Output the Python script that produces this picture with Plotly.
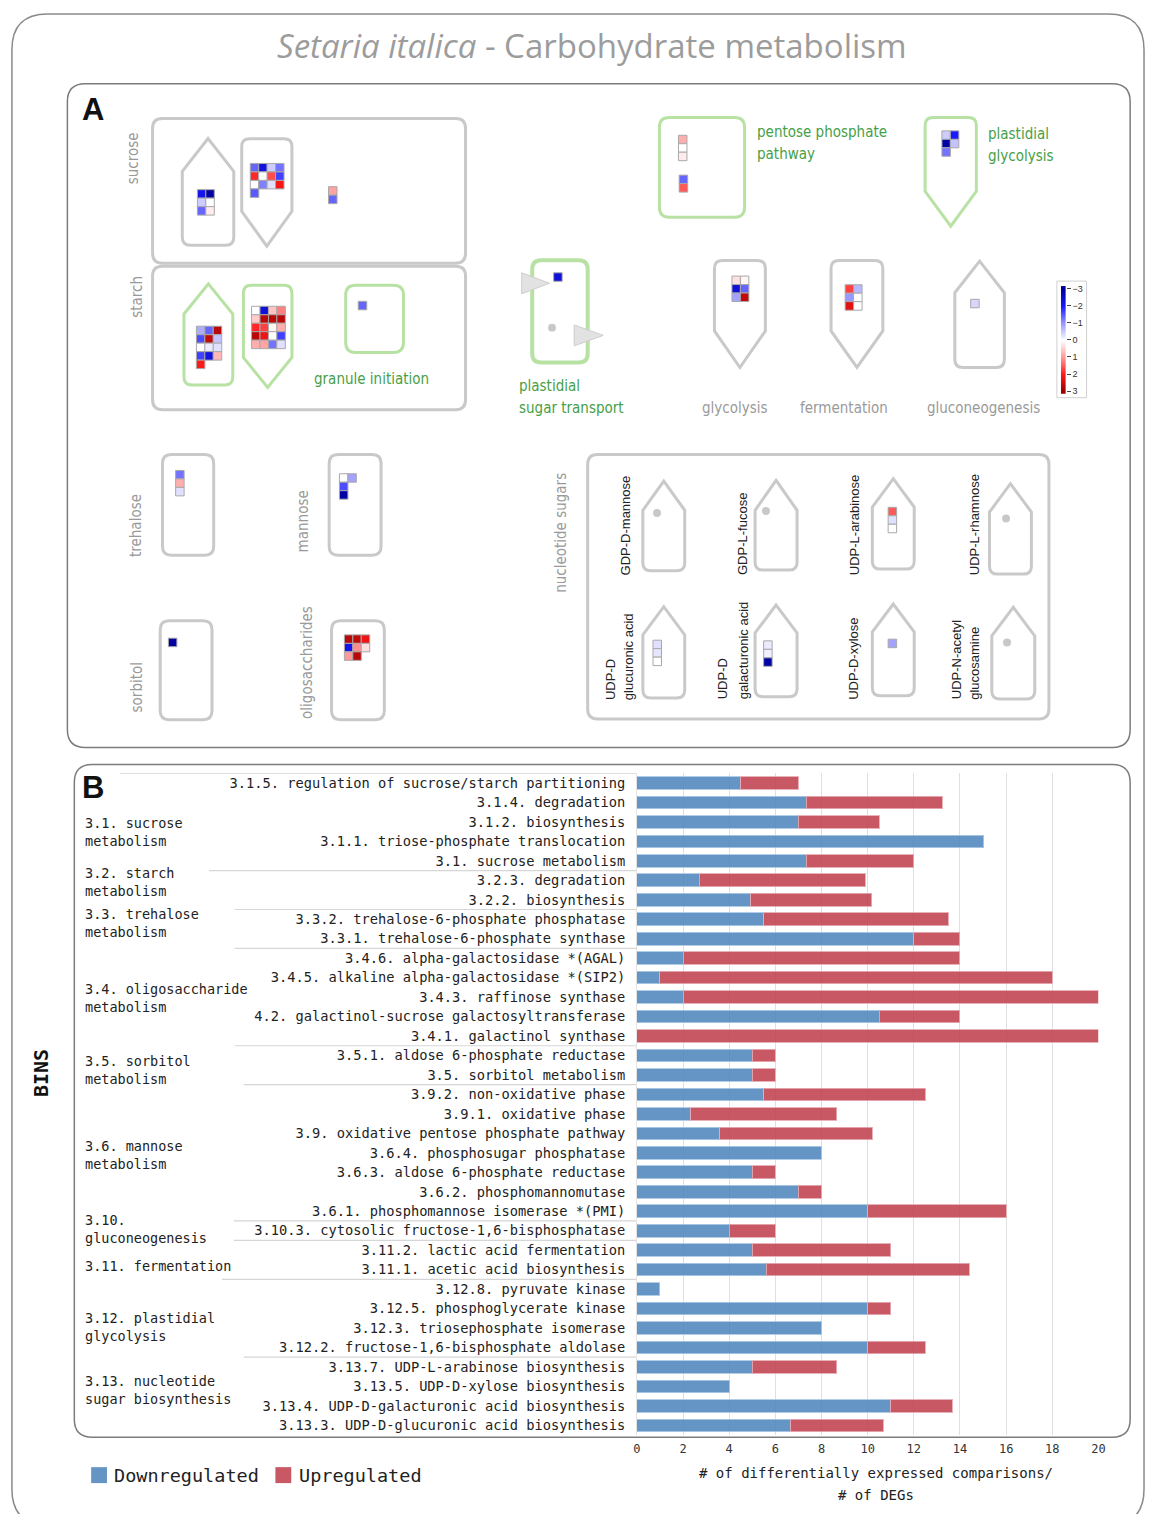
import plotly.graph_objects as go

W, H = 1153, 1517

# ---------------- Panel B: DEG counts per MapMan bin ----------------
bins = [
    "3.1.5. regulation of sucrose/starch partitioning",
    "3.1.4. degradation",
    "3.1.2. biosynthesis",
    "3.1.1. triose-phosphate translocation",
    "3.1. sucrose metabolism",
    "3.2.3. degradation",
    "3.2.2. biosynthesis",
    "3.3.2. trehalose-6-phosphate phosphatase",
    "3.3.1. trehalose-6-phosphate synthase",
    "3.4.6. alpha-galactosidase *(AGAL)",
    "3.4.5. alkaline alpha-galactosidase *(SIP2)",
    "3.4.3. raffinose synthase",
    "4.2. galactinol-sucrose galactosyltransferase",
    "3.4.1. galactinol synthase",
    "3.5.1. aldose 6-phosphate reductase",
    "3.5. sorbitol metabolism",
    "3.9.2. non-oxidative phase",
    "3.9.1. oxidative phase",
    "3.9. oxidative pentose phosphate pathway",
    "3.6.4. phosphosugar phosphatase",
    "3.6.3. aldose 6-phosphate reductase",
    "3.6.2. phosphomannomutase",
    "3.6.1. phosphomannose isomerase *(PMI)",
    "3.10.3. cytosolic fructose-1,6-bisphosphatase",
    "3.11.2. lactic acid fermentation",
    "3.11.1. acetic acid biosynthesis",
    "3.12.8. pyruvate kinase",
    "3.12.5. phosphoglycerate kinase",
    "3.12.3. triosephosphate isomerase",
    "3.12.2. fructose-1,6-bisphosphate aldolase",
    "3.13.7. UDP-L-arabinose biosynthesis",
    "3.13.5. UDP-D-xylose biosynthesis",
    "3.13.4. UDP-D-galacturonic acid biosynthesis",
    "3.13.3. UDP-D-glucuronic acid biosynthesis",
]
downregulated = [4.5, 7.33, 7.0, 15.0, 7.33, 2.7, 4.93, 5.5, 12.0, 2.0, 1.0, 2.0, 10.5, 0.0,
                 5.0, 5.0, 5.5, 2.33, 3.6, 8.0, 5.0, 7.0, 10.0, 4.0, 5.0, 5.6, 1.0, 10.0,
                 8.0, 10.0, 5.0, 4.0, 11.0, 6.67]
upregulated = [2.5, 5.9, 3.5, 0.0, 4.67, 7.2, 5.24, 8.0, 2.0, 12.0, 17.0, 18.0, 3.5, 20.0,
               1.0, 1.0, 7.0, 6.33, 6.6, 0.0, 1.0, 1.0, 6.0, 2.0, 6.0, 8.8, 0.0, 1.0,
               0.0, 2.5, 3.67, 0.0, 2.67, 4.0]
group_sizes = [5, 2, 2, 5, 2, 7, 1, 2, 4, 4]
group_labels = [
    ["3.1. sucrose", "metabolism"],
    ["3.2. starch", "metabolism"],
    ["3.3. trehalose", "metabolism"],
    ["3.4. oligosaccharide", "metabolism"],
    ["3.5. sorbitol", "metabolism"],
    ["3.6. mannose", "metabolism"],
    ["3.10.", "gluconeogenesis"],
    ["3.11. fermentation"],
    ["3.12. plastidial", "glycolysis"],
    ["3.13. nucleotide", "sugar biosynthesis"],
]
x_ticks = [0, 2, 4, 6, 8, 10, 12, 14, 16, 18, 20]

# ---------------- Panel A: log2 fold-change blocks ----------------
scale_ticks = [-3, -2, -1, 0, 1, 2, 3]
sucrose_cytosolic = [[-2.2, -2.9], [-0.5, 0.0], [-1.4, 0.2]]
sucrose_degradation = [[-1.4, -2.3, -0.5, -1.3], [1.9, 0.0, 1.6, -1.7],
                       [0.0, -1.2, -0.3, 2.1], [-1.5, None, None, None]]
sucrose_other = [[0.9], [-1.4]]
starch_synthesis = [[-0.8, -1.4, 2.7], [-1.6, 2.6, -0.6], [0.0, -0.2, -0.3],
                    [-1.7, -2.3, 0.7], [2.0, None, None]]
starch_degradation = [[0.0, -2.4, 0.6, 1.2], [0.5, 2.7, 2.7, 2.7], [1.9, 1.7, 0.1, 0.8],
                      [2.7, 2.2, 0.0, -1.7], [0.8, 0.9, -1.3, -0.3]]
granule_initiation = [[-1.4]]
ppp_oxidative = [[0.8], [0.0], [0.2]]
ppp_nonoxidative = [[-1.4], [1.5]]
sugar_transport = [[-2.4]]
glycolysis = [[0.3, 0.1], [-2.4, -1.4], [-0.9, 2.6]]
plastid_glycolysis = [[-0.5, -2.0], [-2.9, -0.6], [-1.3, None]]
fermentation = [[1.7, -0.7], [-1.0, 0.0], [2.3, 0.0]]
gluconeogenesis = [[-0.4]]
trehalose = [[-1.3], [0.8], [-0.3]]
mannose = [[0.0, -0.9], [-1.6, None], [-2.9, None]]
sorbitol = [[-2.9]]
oligosaccharides = [[2.7, 2.6, 2.2], [-2.2, 1.1, 0.3], [1.0, 2.7, None]]
udp_arabinose = [[1.5], [-0.3], [0.0]]
udp_glucuronic = [[-0.3], [-0.25], [0.0]]
udp_galacturonic = [[-0.2], [-0.15], [-2.9]]
udp_xylose = [[-0.9]]

# block placement (top-left corner, px)
blocks = [
    (sucrose_cytosolic, 194.3, 187.3), (sucrose_degradation, 247.7, 161.0),
    (sucrose_other, 326.7, 184.3), (starch_synthesis, 193.3, 324.3),
    (starch_degradation, 249.0, 304.3), (granule_initiation, 356.7, 299.3),
    (ppp_oxidative, 680.0, 132.7), (ppp_nonoxidative, 680.7, 172.7),
    (sugar_transport, 554.0, 270.7), (glycolysis, 734.0, 274.0),
    (plastid_glycolysis, 946.0, 128.3), (fermentation, 848.3, 282.7),
    (gluconeogenesis, 975.0, 297.3), (trehalose, 172.3, 469.0),
    (mannose, 337.7, 472.3), (sorbitol, 165.0, 637.3),
    (oligosaccharides, 342.7, 634.0), (udp_arabinose, 891.7, 506.0),
    (udp_glucuronic, 654.3, 639.3), (udp_galacturonic, 766.0, 640.0),
    (udp_xylose, 891.7, 638.3),
]
CELL = 8.5
fc_scale = [[0.0, "#00009a"], [1 / 6, "#1a1aff"], [2 / 6, "#9999ff"], [0.5, "#ffffff"],
            [4 / 6, "#ff9999"], [5 / 6, "#ff1a1a"], [1.0, "#9a0000"]]

GREY = "#c9c9c9"
GREEN = "#b8e2a4"
TXT_GREY = "#9a9a9a"
TXT_GREEN = "#46a046"
NARROW = "DejaVu Sans Condensed, Liberation Sans Narrow, Arial Narrow, Liberation Sans, Arial"
MONO = "DejaVu Sans Mono, monospace"
SANS = "Liberation Sans, Arial, sans-serif"

fig = go.Figure()

# stacked bars
bar_blue = "rgba(74,131,188,0.86)"
bar_red = "rgba(190,61,75,0.86)"
fig.add_trace(go.Bar(y=bins, x=downregulated, orientation="h", name="Downregulated",
                     marker=dict(color=bar_blue, line=dict(color="rgba(170,200,230,0.9)", width=1)),
                     xaxis="x", yaxis="y", showlegend=False))
fig.add_trace(go.Bar(y=bins, x=upregulated, orientation="h", name="Upregulated",
                     marker=dict(color=bar_red, line=dict(color="rgba(230,170,178,0.9)", width=1)),
                     xaxis="x", yaxis="y", showlegend=False))

# heat-map cells of panel A
cx, cy, cv = [], [], []
for grid, x0, y0 in blocks:
    for r, row in enumerate(grid):
        for c, v in enumerate(row):
            if v is None:
                continue
            cx.append(x0 + 1 + CELL / 2 + c * CELL)
            cy.append(y0 + 1 + CELL / 2 + r * CELL)
            cv.append(v)
fig.add_trace(go.Scatter(x=cx, y=cy, mode="markers", xaxis="x2", yaxis="y2",
                         marker=dict(symbol="square", size=CELL, color=cv, colorscale=fc_scale,
                                     cmin=-3, cmax=3, line=dict(color="#a9a9a9", width=1)),
                         showlegend=False, hoverinfo="skip"))

# colour key
fig.add_trace(go.Heatmap(z=[[v, v] for v in scale_ticks], y=scale_ticks, x=[0, 1],
                         colorscale=fc_scale, zmin=-3, zmax=3, zsmooth="best",
                         showscale=False, xaxis="x3", yaxis="y3", hoverinfo="skip"))

shapes = []


def rrect(x0, y0, x1, y1, r, color, width, fill="rgba(0,0,0,0)"):
    p = (f"M{x0+r},{y0} L{x1-r},{y0} Q{x1},{y0} {x1},{y0+r} L{x1},{y1-r} Q{x1},{y1} {x1-r},{y1} "
         f"L{x0+r},{y1} Q{x0},{y1} {x0},{y1-r} L{x0},{y0+r} Q{x0},{y0} {x0+r},{y0} Z")
    shapes.append(dict(type="path", path=p, xref="x2", yref="y2", layer="below",
                       line=dict(color=color, width=width), fillcolor=fill))


def house(l, r, apex, shoulder, bottom, color, rad=8, width=3):
    m = (l + r) / 2
    p = (f"M{l},{shoulder} L{m},{apex} L{r},{shoulder} L{r},{bottom-rad} Q{r},{bottom} {r-rad},{bottom} "
         f"L{l+rad},{bottom} Q{l},{bottom} {l},{bottom-rad} Z")
    shapes.append(dict(type="path", path=p, xref="x2", yref="y2", layer="below",
                       line=dict(color=color, width=width)))


def shield(l, r, top, shoulder, apex, color, rad=8, width=3):
    m = (l + r) / 2
    p = (f"M{l},{top+rad} Q{l},{top} {l+rad},{top} L{r-rad},{top} Q{r},{top} {r},{top+rad} "
         f"L{r},{shoulder} L{m},{apex} L{l},{shoulder} Z")
    shapes.append(dict(type="path", path=p, xref="x2", yref="y2", layer="below",
                       line=dict(color=color, width=width)))


def tri(x0, ya, yb, tip_x):
    p = f"M{x0},{ya} L{x0},{yb} L{tip_x},{(ya+yb)/2} Z"
    shapes.append(dict(type="path", path=p, xref="x2", yref="y2", layer="below",
                       line=dict(color="#cdcdcd", width=1), fillcolor="#e2e2e2"))


def dot(x, y, r=4):
    shapes.append(dict(type="circle", x0=x - r, x1=x + r, y0=y - r, y1=y + r, xref="x2", yref="y2",
                       layer="below", line=dict(width=0), fillcolor="#c8c8c8"))


# frames
rrect(8, 12, 1151, 1528, 36, "#8a8a8a", 1.5)
rrect(64, 82, 1137, 748, 18, "#7c7c7c", 1.5)
rrect(71, 765, 1137, 1440, 18, "#7c7c7c", 1.5)

# panel A compartments
rrect(150, 117, 466, 262, 10, GREY, 3)
rrect(150, 265, 466, 409, 10, GREY, 3)
house(180, 232, 137, 170, 244, GREY)
shield(240, 290.7, 137.3, 210, 245, GREY)
house(181.7, 231, 282.7, 313, 384.3, GREEN)
shield(241.7, 290.7, 284.3, 356.7, 386.7, GREEN)
rrect(345, 284.3, 403.3, 351.7, 10, GREEN, 3)
rrect(661.7, 116, 747.7, 216, 10, GREEN, 3)
shield(930, 981.7, 116, 190, 225, GREEN)
rrect(533.3, 259, 589.3, 361.7, 9, GREEN, 4)
tri(522.7, 271.7, 292.7, 550.7)
tri(575.7, 324, 345, 605)
dot(553.3, 326.7)
shield(717.3, 768.7, 259.3, 330, 366.7, GREY)
shield(835, 887.3, 259.3, 330, 366.7, GREY)
house(960, 1010, 260, 291.7, 366.7, GREY)
rrect(160, 454, 211.7, 555, 9, GREY, 3)
rrect(328.3, 454, 380.7, 555, 9, GREY, 3)
rrect(157.7, 620.7, 210, 720, 9, GREY, 3)
rrect(330.7, 620.7, 384, 720, 9, GREY, 3)
rrect(589.3, 454, 1055, 719.3, 10, GREY, 3)
house(645, 687.3, 480.7, 510, 570.7, GREY)
house(758.3, 800.7, 480, 510, 570, GREY)
house(876.7, 919, 478.3, 506.7, 569, GREY)
house(995, 1037.3, 483.3, 511.7, 574, GREY)
house(645, 687.3, 606.7, 635, 698.3, GREY)
house(758.3, 800.7, 605, 633, 697, GREY)
house(876.7, 919, 604, 632, 696, GREY)
house(997.3, 1040.7, 607.3, 636, 699.3, GREY)
dot(659.3, 512.7)
dot(769.3, 510.7)
dot(1011.7, 518.3)
dot(1012.7, 642.7)
rrect(1063, 280, 1093, 397, 0.1, "#d0d0d0", 1)

# separators between bin groups in panel B
sep_x = [117, 207, 233, 233, 233, 242, 232, 232, 220, 242]
bounds = [-0.5]
acc = 0
for g in group_sizes[:-1]:
    acc += g
    bounds.append(acc - 0.5)
for xs, b in zip(sep_x, bounds):
    shapes.append(dict(type="line", xref="paper", yref="y", x0=xs / W, x1=639 / W, y0=b, y1=b,
                       line=dict(color="#d6d6d6", width=1.2), layer="below"))

# legend swatches
shapes.append(dict(type="rect", xref="x2", yref="y2", x0=88, x1=104, y0=1470, y1=1486,
                   fillcolor=bar_blue, line=dict(width=0)))
shapes.append(dict(type="rect", xref="x2", yref="y2", x0=274, x1=290, y0=1470, y1=1486,
                   fillcolor=bar_red, line=dict(width=0)))

ann = []


def text(t, x, y, size, color, family, xanchor="center", yanchor="middle", angle=0, bold=False,
         align="center"):
    if bold:
        t = f"<b>{t}</b>"
    ann.append(dict(text=t, x=x, y=y, xref="x2", yref="y2", showarrow=False, xanchor=xanchor,
                    yanchor=yanchor, textangle=angle, align=align,
                    font=dict(size=size, color=color, family=family)))


text("<i>Setaria italica</i> - Carbohydrate metabolism", 594, 44, 33, "#9c9c9c",
     "Open Sans, Liberation Sans, sans-serif")
text("A", 77, 108, 31, "#111", SANS, xanchor="left", bold=True)
text("B", 77, 788, 31, "#111", SANS, xanchor="left", bold=True)

# panel A labels
text("sucrose", 131, 157, 15, TXT_GREY, NARROW, angle=-90)
text("starch", 134, 296, 15, TXT_GREY, NARROW, angle=-90)
text("granule initiation", 371, 378, 15, TXT_GREEN, NARROW)
text("pentose phosphate", 758, 130, 15, TXT_GREEN, NARROW, xanchor="left")
text("pathway", 758, 152, 15, TXT_GREEN, NARROW, xanchor="left")
text("plastidial", 991, 132, 15, TXT_GREEN, NARROW, xanchor="left")
text("glycolysis", 991, 155, 15, TXT_GREEN, NARROW, xanchor="left")
text("plastidial", 518, 385, 15, TXT_GREEN, NARROW, xanchor="left")
text("sugar transport", 518, 407, 15, TXT_GREEN, NARROW, xanchor="left")
text("glycolysis", 738, 407, 15, TXT_GREY, NARROW)
text("fermentation", 848, 407, 15, TXT_GREY, NARROW)
text("gluconeogenesis", 989, 407, 15, TXT_GREY, NARROW)
text("trehalose", 134, 525, 15, TXT_GREY, NARROW, angle=-90)
text("mannose", 302, 521, 15, TXT_GREY, NARROW, angle=-90)
text("sorbitol", 134, 688, 15, TXT_GREY, NARROW, angle=-90)
text("oligosaccharides", 306, 663, 15, TXT_GREY, NARROW, angle=-90)
text("nucleotide sugars", 563, 533, 15, TXT_GREY, NARROW, angle=-90)
NS = "#222"
text("GDP-D-mannose", 627.3, 577, 13, NS, SANS, yanchor="bottom", angle=-90)
text("GDP-L-fucose", 745, 577, 13, NS, SANS, yanchor="bottom", angle=-90)
text("UDP-L-arabinose", 858.3, 577, 13, NS, SANS, yanchor="bottom", angle=-90)
text("UDP-L-rhamnose", 980, 577, 13, NS, SANS, yanchor="bottom", angle=-90)
text("UDP-D", 611.7, 702, 13, NS, SANS, yanchor="bottom", angle=-90)
text("glucuronic acid", 630, 702, 13, NS, SANS, yanchor="bottom", angle=-90)
text("UDP-D", 725, 702, 13, NS, SANS, yanchor="bottom", angle=-90)
text("galacturonic acid", 746.7, 702, 13, NS, SANS, yanchor="bottom", angle=-90)
text("UDP-D-xylose", 858.3, 702, 13, NS, SANS, yanchor="bottom", angle=-90)
text("UDP-N-acetyl", 961.7, 702, 13, NS, SANS, yanchor="bottom", angle=-90)
text("glucosamine", 980, 702, 13, NS, SANS, yanchor="bottom", angle=-90)

# panel B labels (group names, each as one block of text)
group_label_y = [833, 883, 924, 999, 1072, 1157, 1231, 1268, 1329, 1393]
for lines, y in zip(group_labels, group_label_y):
    text("<br>".join(lines), 80, y, 13.5, "#222", MONO, xanchor="left", align="left")
text("BINS", 38, 1075, 20, "#111", MONO, angle=-90, bold=True)
text("Downregulated", 109, 1478, 18.5, "#222", MONO, xanchor="left")
text("Upregulated", 296, 1478, 18.5, "#222", MONO, xanchor="left")
text("# of differentially expressed comparisons/", 880, 1476, 14, "#222", MONO)
text("# of DEGs", 880, 1498, 14, "#222", MONO)

y_top, y_bot = 773.2, 1437.8
fig.update_layout(
    width=W, height=H, margin=dict(l=0, r=0, t=0, b=0),
    paper_bgcolor="white", plot_bgcolor="rgba(0,0,0,0)",
    barmode="stack", bargap=0.35, showlegend=False,
    shapes=shapes, annotations=ann,
    xaxis=dict(domain=[639 / W, 1105 / W], range=[0, 20], tickvals=x_ticks, showgrid=True,
               gridcolor="#e0e0e0", gridwidth=1, zeroline=False, showline=False, ticks="",
               tickfont=dict(family=MONO, size=12, color="#333"), anchor="y", ticklabelstandoff=5),
    yaxis=dict(domain=[(H - y_bot) / H, (H - y_top) / H], type="category", categoryorder="array",
               categoryarray=bins, autorange="reversed", showgrid=False, zeroline=False,
               showline=True, linecolor="#e4e4e4", ticks="",
               tickfont=dict(family=MONO, size=13.7, color="#222"), anchor="x",
               ticklabelstandoff=8),
    xaxis2=dict(domain=[0, 1], range=[0, W], visible=False, anchor="y2", fixedrange=True),
    yaxis2=dict(domain=[0, 1], range=[H, 0], visible=False, anchor="x2", fixedrange=True),
    xaxis3=dict(domain=[1067 / W, 1072 / W], range=[0, 1], visible=False, anchor="y3"),
    yaxis3=dict(domain=[(H - 393) / H, (H - 285) / H], range=[3.15, -3.15], anchor="x3",
                side="right", tickvals=scale_ticks, ticks="outside", ticklen=4, tickcolor="#444",
                showgrid=False, zeroline=False, showline=False,
                tickfont=dict(family=SANS, size=9, color="#333")),
)

fig.write_html("out.html")
